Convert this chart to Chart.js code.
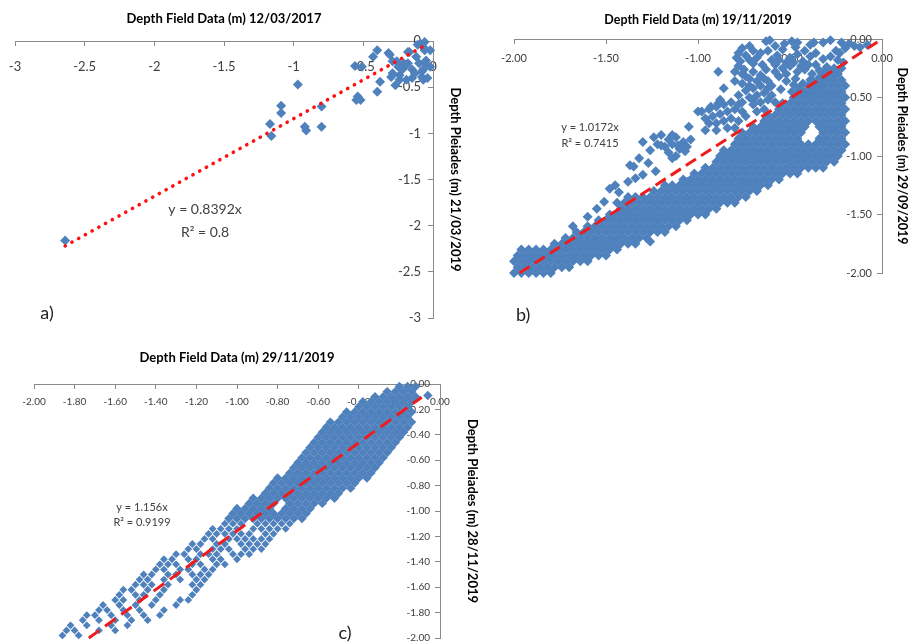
<!DOCTYPE html>
<html>
<head>
<meta charset="utf-8">
<script src="https://cdn.jsdelivr.net/npm/chart.js@4/dist/chart.umd.min.js"></script>
<style>
html,body{margin:0;padding:0;background:#fff;}
body{width:912px;height:644px;position:relative;overflow:hidden;}
.box{position:absolute;}
canvas{display:block;}
</style>
</head>
<body>
<div class="box" style="left:0;top:0;width:470px;height:330px"><canvas id="cA" width="470" height="330"></canvas></div>
<div class="box" style="left:480px;top:0;width:432px;height:330px"><canvas id="cB" width="432" height="330"></canvas></div>
<div class="box" style="left:0;top:340px;width:500px;height:304px"><canvas id="cC" width="500" height="304"></canvas></div>
<script>
// ---------- tick labels ----------
const aTickLabels = ['-3','-2.5','-2','-1.5','-1','-0.5','0'];
const bTickLabels = ['-2.00','-1.50','-1.00','-0.50','0.00'];
const cTickLabels = ['-2.00','-1.80','-1.60','-1.40','-1.20','-1.00','-0.80','-0.60','-0.40','-0.20','0.00'];

// ---------- axis titles ----------
const aTitles = ['Depth Field Data (m) 12/03/2017', 'Depth Pleiades (m) 21/03/2019'];
const bTitles = ['Depth Field Data (m) 19/11/2019', 'Depth Pleiades (m) 29/09/2019'];
const cTitles = ['Depth Field Data (m) 29/11/2019', 'Depth Pleiades (m) 28/11/2019'];

// ---------- trend equations ----------
const aEq = ['y = 0.8392x', 'R\u00B2 = 0.8'];
const bEq = ['y = 1.0172x', 'R\u00B2 = 0.7415'];
const cEq = ['y = 1.156x', 'R\u00B2 = 0.9199'];

// ---------- panel a: [field, pleiades] ----------
const aPoints = [
[-2.64,-2.16],[-1.17,-0.90],[-1.16,-1.03],[-1.09,-0.70],[-1.09,-0.78],
[-0.97,-0.47],[-0.92,-0.93],[-0.91,-0.97],[-0.80,-0.71],[-0.80,-0.93],
[-0.56,-0.27],[-0.55,-0.64],[-0.54,-0.60],[-0.51,-0.28],
[-0.43,-0.17],[-0.40,-0.10],[-0.38,-0.44],[-0.40,-0.55],
[-0.32,-0.13],[-0.31,-0.15],[-0.29,-0.22],[-0.29,-0.35],[-0.30,-0.39],[-0.27,-0.48],
[-0.26,-0.22],[-0.25,-0.28],[-0.24,-0.37],[-0.24,-0.42],[-0.22,-0.31],[-0.21,-0.24],
[-0.19,-0.26],[-0.19,-0.42],[-0.18,-0.12],[-0.17,-0.12],[-0.18,-0.24],[-0.15,-0.31],
[-0.15,-0.40],[-0.13,-0.35],[-0.12,-0.17],[-0.11,-0.04],[-0.10,-0.24],[-0.09,-0.03],
[-0.08,-0.39],[-0.08,-0.33],[-0.07,-0.31],[-0.07,-0.42],[-0.06,-0.10],[-0.06,-0.01],
[-0.06,-0.24],[-0.05,-0.21],[-0.04,-0.40],[-0.02,-0.28],[-0.02,-0.10],[-0.06,-0.08],
[-0.52,-0.64]
];
const aTrend = [[-2.64,-2.22],[-0.06,-0.05]];

// ---------- panel b: rows of field values read at each pleiades depth ----------
const bRowY = [-2.00,-1.95,-1.90,-1.85,-1.80,-1.75,-1.70,-1.65,-1.60,-1.55,-1.50,-1.45,-1.40,-1.35,-1.30,-1.25,-1.20,-1.15,-1.10,-1.05,-1.00,-0.95,-0.90,-0.85,-0.80,-0.75,-0.70,-0.65,-0.60,-0.55,-0.50,-0.45,-0.40,-0.35,-0.30,-0.25];
const bRowX = [
[-2.00,-1.96,-1.92,-1.88,-1.84,-1.80],
[-1.98,-1.94,-1.90,-1.86,-1.82,-1.78,-1.74,-1.70],
[-2.00,-1.96,-1.92,-1.88,-1.84,-1.80,-1.76,-1.72,-1.68,-1.64,-1.60],
[-1.98,-1.94,-1.90,-1.86,-1.82,-1.78,-1.74,-1.70,-1.66,-1.62,-1.58,-1.54,-1.50],
[-1.96,-1.92,-1.88,-1.84,-1.80,-1.76,-1.72,-1.68,-1.64,-1.60,-1.56,-1.52,-1.48,-1.44],
[-1.78,-1.74,-1.70,-1.66,-1.62,-1.58,-1.54,-1.50,-1.46,-1.42,-1.38,-1.34],
[-1.72,-1.68,-1.64,-1.60,-1.56,-1.52,-1.48,-1.44,-1.40,-1.36,-1.32,-1.28],
[-1.66,-1.62,-1.58,-1.54,-1.50,-1.46,-1.42,-1.38,-1.34,-1.30,-1.26,-1.22,-1.18],
[-1.60,-1.56,-1.52,-1.48,-1.44,-1.40,-1.36,-1.32,-1.28,-1.24,-1.20,-1.16,-1.12],
[-1.54,-1.50,-1.46,-1.42,-1.38,-1.34,-1.30,-1.26,-1.22,-1.18,-1.14,-1.10,-1.06],
[-1.48,-1.44,-1.40,-1.36,-1.32,-1.28,-1.24,-1.20,-1.16,-1.12,-1.08,-1.04,-1.00,-0.96],
[-1.42,-1.38,-1.34,-1.30,-1.26,-1.22,-1.18,-1.14,-1.10,-1.06,-1.02,-0.98,-0.94,-0.90],
[-1.44,-1.40,-1.36,-1.32,-1.28,-1.24,-1.20,-1.16,-1.12,-1.08,-1.04,-1.00,-0.96,-0.92,-0.88,-0.84,-0.80],
[-1.38,-1.34,-1.30,-1.26,-1.22,-1.18,-1.14,-1.10,-1.06,-1.02,-0.98,-0.94,-0.90,-0.86,-0.82,-0.78,-0.74],
[-1.24,-1.20,-1.16,-1.12,-1.08,-1.04,-1.00,-0.96,-0.92,-0.88,-0.84,-0.80,-0.76,-0.72,-0.68],
[-1.18,-1.14,-1.10,-1.06,-1.02,-0.98,-0.94,-0.90,-0.86,-0.82,-0.78,-0.74,-0.70,-0.66,-0.62],
[-1.08,-1.04,-1.00,-0.96,-0.92,-0.88,-0.84,-0.80,-0.76,-0.72,-0.68,-0.64,-0.60,-0.56],
[-1.02,-0.98,-0.94,-0.90,-0.86,-0.82,-0.78,-0.74,-0.70,-0.66,-0.62,-0.58,-0.54,-0.50,-0.46],
[-0.96,-0.92,-0.88,-0.84,-0.80,-0.76,-0.72,-0.68,-0.64,-0.60,-0.56,-0.52,-0.48,-0.44,-0.40,-0.36,-0.32],
[-0.90,-0.86,-0.82,-0.78,-0.74,-0.70,-0.66,-0.62,-0.58,-0.54,-0.50,-0.46,-0.42,-0.38,-0.34,-0.30,-0.26],
[-0.88,-0.84,-0.80,-0.76,-0.72,-0.68,-0.64,-0.60,-0.56,-0.52,-0.48,-0.44,-0.40,-0.36,-0.32,-0.28,-0.24],
[-0.86,-0.82,-0.78,-0.74,-0.70,-0.66,-0.62,-0.58,-0.54,-0.50,-0.46,-0.42,-0.38,-0.34,-0.30,-0.26,-0.22],
[-0.80,-0.76,-0.72,-0.68,-0.64,-0.60,-0.56,-0.52,-0.48,-0.44,-0.40,-0.36,-0.32,-0.28,-0.24,-0.20],
[-0.78,-0.74,-0.70,-0.66,-0.62,-0.58,-0.54,-0.50,-0.46,-0.34,-0.30,-0.26,-0.22],
[-0.76,-0.72,-0.68,-0.64,-0.60,-0.56,-0.52,-0.48,-0.44,-0.32,-0.28,-0.24,-0.20],
[-0.70,-0.66,-0.62,-0.58,-0.54,-0.50,-0.46,-0.42,-0.34,-0.30,-0.26,-0.22],
[-0.64,-0.60,-0.56,-0.52,-0.48,-0.44,-0.40,-0.36,-0.32,-0.28,-0.24,-0.20],
[-0.62,-0.58,-0.54,-0.50,-0.46,-0.42,-0.38,-0.34,-0.30,-0.26,-0.22],
[-0.56,-0.52,-0.48,-0.44,-0.40,-0.36,-0.32,-0.28,-0.24,-0.20],
[-0.54,-0.50,-0.46,-0.42,-0.38,-0.34,-0.30,-0.26,-0.22],
[-0.48,-0.44,-0.40,-0.36,-0.32,-0.28,-0.24,-0.20],
[-0.46,-0.42,-0.38,-0.34,-0.30,-0.26,-0.22],
[-0.40,-0.36,-0.32,-0.28,-0.24,-0.20],
[-0.38,-0.34,-0.30,-0.26,-0.22],
[-0.32,-0.28,-0.24],
[-0.30,-0.26,-0.22]
];
const bScatter = [
[-0.63,-0.02],[-0.61,-0.01],[-0.53,-0.04],[-0.49,-0.02],[-0.46,-0.03],[-0.39,-0.05],[-0.37,-0.03],[-0.32,-0.03],
[-0.28,-0.01],[-0.22,-0.03],[-0.18,-0.04],[-0.15,-0.06],[-0.12,-0.07],[-0.08,-0.05],
[-0.79,-0.16],[-0.77,-0.19],[-0.74,-0.14],[-0.72,-0.18],[-0.68,-0.16],[-0.65,-0.22],[-0.75,-0.26],[-0.70,-0.28],
[-0.66,-0.31],[-0.63,-0.26],[-0.74,-0.32],[-0.70,-0.21],[-0.78,-0.23],[-0.80,-0.28],[-0.76,-0.30],[-0.72,-0.34],
[-0.68,-0.36],[-0.64,-0.34],[-0.80,-0.36],[-0.76,-0.38],[-0.72,-0.40],[-0.66,-0.12],[-0.70,-0.10],[-0.78,-0.12],
[-0.60,-0.18],[-0.62,-0.10],[-0.57,-0.14],[-0.54,-0.09],[-0.50,-0.16],[-0.47,-0.07],[-0.46,-0.13],[-0.43,-0.19],
[-0.42,-0.10],[-0.39,-0.15],[-0.36,-0.22],[-0.32,-0.17],[-0.58,-0.22],[-0.54,-0.25],[-0.50,-0.23],[-0.46,-0.28],
[-0.42,-0.26],[-0.38,-0.30],[-0.34,-0.27],[-0.30,-0.24],[-0.28,-0.15],[-0.25,-0.10],[-0.56,-0.32],[-0.52,-0.36],
[-0.47,-0.34],[-0.43,-0.38],[-0.39,-0.35],[-0.35,-0.40],[-0.31,-0.36],[-0.27,-0.31],[-0.60,-0.40],[-0.55,-0.43],
[-0.49,-0.45],[-0.45,-0.42],[-0.41,-0.47],[-0.23,-0.12],[-0.20,-0.08],[-0.24,-0.18],[-0.21,-0.20],
[-0.76,-0.08],[-0.72,-0.06],[-0.58,-0.06],[-0.56,-0.18],[-0.52,-0.20],[-0.48,-0.20],[-0.44,-0.23],[-0.40,-0.22],
[-0.36,-0.12],[-0.34,-0.33],[-0.30,-0.30],[-0.58,-0.28],[-0.62,-0.36],[-0.52,-0.30],[-0.48,-0.39],[-0.44,-0.46],
[-0.38,-0.42],[-0.33,-0.45],
[-0.89,-0.28],[-0.86,-0.42],[-0.89,-0.55],
[-1.24,-0.84],[-1.20,-0.82],[-1.16,-0.86],[-1.12,-0.84],[-1.08,-0.88],[-1.22,-0.90],[-1.18,-0.92],[-1.14,-0.90],
[-1.10,-0.94],[-1.06,-0.92],[-1.16,-0.97],[-1.12,-1.00],[-1.04,-0.86],[-1.26,-0.95],
[-0.98,-0.62],[-0.94,-0.60],[-0.90,-0.58],[-0.86,-0.56],[-0.82,-0.54],[-0.78,-0.56],[-0.96,-0.68],[-0.92,-0.66],
[-0.88,-0.64],[-0.84,-0.62],[-0.80,-0.60],[-0.76,-0.62],[-0.90,-0.72],[-0.86,-0.70],[-0.82,-0.68],[-0.78,-0.70],
[-0.74,-0.66],[-0.84,-0.76],[-0.80,-0.76],
[-0.74,-0.44],[-0.70,-0.42],[-0.66,-0.40],[-0.62,-0.42],[-0.72,-0.50],[-0.68,-0.48],[-0.64,-0.46],[-0.60,-0.48],
[-0.70,-0.56],[-0.66,-0.54],[-0.62,-0.52],[-0.58,-0.54],[-0.68,-0.62],[-0.64,-0.60],[-0.78,-0.48],
[-1.00,-0.62],[-0.93,-0.58],[-0.88,-0.52],[-0.76,-0.54],[-0.70,-0.52],[-0.94,-0.72],[-0.90,-0.78],[-0.96,-0.78],
[-1.05,-0.75],[-1.14,-0.82],[-1.30,-0.88],[-1.20,-0.91],[-1.11,-0.91],[-1.07,-0.96],[-1.14,-1.02],[-1.32,-1.02],
[-1.27,-1.06],[-1.37,-1.08],[-1.30,-1.16],[-1.23,-1.13],[-1.06,-1.22],[-1.38,-1.22],[-1.43,-1.31],[-1.51,-1.39],
[-1.48,-1.28],[-1.26,-1.73],[-1.34,-1.19],[-1.55,-1.45],[-1.60,-1.52],[-1.68,-1.60],[-1.45,-1.25],[-1.35,-1.09]
];
const bTrend = [[-1.97,-2.00],[0.00,0.00]];

// ---------- panel c: rows of field values read at each pleiades depth ----------
const cRowY = [-0.02,-0.06,-0.10,-0.14,-0.18,-0.22,-0.26,-0.30,-0.34,-0.38,-0.42,-0.46,-0.50,-0.54,-0.58,-0.62,-0.66,-0.70,-0.74,-0.78,-0.82,-0.86,-0.90,-0.94,-0.98,-1.02,-1.06,-1.10,-1.14,-1.18,-1.22,-1.26,-1.30,-1.34,-1.38,-1.42,-1.46,-1.50,-1.54,-1.58,-1.62,-1.66,-1.70,-1.74,-1.78,-1.82,-1.86,-1.90,-1.94,-1.98];
const cRowX = [
[-0.20,-0.16,-0.12],
[-0.26,-0.22,-0.18,-0.14],
[-0.32,-0.28,-0.24,-0.20,-0.16,-0.12],
[-0.38,-0.34,-0.30,-0.26,-0.22,-0.18,-0.14],
[-0.40,-0.36,-0.32,-0.28,-0.24,-0.20,-0.16],
[-0.46,-0.42,-0.38,-0.34,-0.30,-0.26,-0.22,-0.18,-0.14],
[-0.48,-0.44,-0.40,-0.36,-0.32,-0.28,-0.24,-0.20,-0.16],
[-0.54,-0.50,-0.46,-0.42,-0.38,-0.34,-0.30,-0.26,-0.22,-0.18,-0.14],
[-0.56,-0.52,-0.48,-0.44,-0.40,-0.36,-0.32,-0.28,-0.24,-0.20,-0.16],
[-0.58,-0.54,-0.50,-0.46,-0.42,-0.38,-0.34,-0.30,-0.26,-0.22,-0.18],
[-0.60,-0.56,-0.52,-0.48,-0.44,-0.40,-0.36,-0.32,-0.28,-0.24,-0.20],
[-0.62,-0.58,-0.54,-0.50,-0.46,-0.42,-0.38,-0.34,-0.30,-0.26,-0.22],
[-0.64,-0.60,-0.56,-0.52,-0.48,-0.44,-0.40,-0.36,-0.32,-0.28,-0.24],
[-0.66,-0.62,-0.58,-0.54,-0.50,-0.46,-0.42,-0.38,-0.34,-0.30,-0.26],
[-0.68,-0.64,-0.60,-0.56,-0.52,-0.48,-0.44,-0.40,-0.36,-0.32,-0.28],
[-0.70,-0.66,-0.62,-0.58,-0.54,-0.50,-0.46,-0.42,-0.38,-0.34,-0.30],
[-0.72,-0.68,-0.64,-0.60,-0.56,-0.52,-0.48,-0.44,-0.40,-0.36,-0.32],
[-0.74,-0.70,-0.66,-0.62,-0.58,-0.54,-0.50,-0.46,-0.42,-0.38,-0.34],
[-0.80,-0.76,-0.72,-0.68,-0.64,-0.60,-0.56,-0.52,-0.48,-0.44,-0.40,-0.36],
[-0.82,-0.78,-0.74,-0.70,-0.66,-0.62,-0.58,-0.54,-0.50,-0.46,-0.42],
[-0.84,-0.80,-0.76,-0.72,-0.68,-0.64,-0.60,-0.56,-0.52,-0.48,-0.44],
[-0.86,-0.82,-0.78,-0.74,-0.70,-0.66,-0.62,-0.58,-0.54,-0.50],
[-0.92,-0.88,-0.84,-0.80,-0.76,-0.72,-0.68,-0.64,-0.60,-0.56,-0.52],
[-0.94,-0.90,-0.86,-0.82,-0.74,-0.70,-0.66,-0.62,-0.58],
[-1.00,-0.96,-0.92,-0.88,-0.84,-0.76,-0.72,-0.68,-0.64],
[-1.02,-0.98,-0.94,-0.90,-0.86,-0.82,-0.78,-0.74,-0.70,-0.66],
[-1.04,-1.00,-0.96,-0.92,-0.88,-0.84,-0.80,-0.76,-0.72,-0.68],
[-1.06,-1.02,-0.98,-0.90,-0.86,-0.82,-0.78,-0.74],
[-1.12,-1.08,-1.04,-1.00,-0.92,-0.88,-0.84,-0.80,-0.76],
[-1.14,-1.10,-1.06,-1.02,-0.98,-0.94,-0.86,-0.82],
[-1.16,-1.12,-1.04,-1.00,-0.96,-0.92,-0.88,-0.84],
[-1.22,-1.18,-1.10,-1.06,-0.98,-0.94,-0.90,-0.86],
[-1.24,-1.20,-1.12,-1.08,-1.04,-0.96,-0.92,-0.88],
[-1.30,-1.26,-1.18,-1.14,-1.10,-1.02,-0.98,-0.94],
[-1.36,-1.32,-1.24,-1.20,-1.12,-1.08,-1.00],
[-1.38,-1.34,-1.30,-1.22,-1.18,-1.10,-1.06],
[-1.40,-1.36,-1.28,-1.24,-1.16,-1.12],
[-1.46,-1.42,-1.34,-1.30,-1.22,-1.18,-1.14],
[-1.48,-1.44,-1.36,-1.28,-1.20,-1.16],
[-1.50,-1.46,-1.42,-1.34,-1.22,-1.18],
[-1.56,-1.52,-1.44,-1.36,-1.20],
[-1.58,-1.50,-1.46,-1.38,-1.22],
[-1.60,-1.56,-1.48,-1.40,-1.28,-1.24],
[-1.66,-1.58,-1.50,-1.42,-1.30],
[-1.68,-1.64,-1.56,-1.48,-1.36],
[-1.74,-1.70,-1.62,-1.54,-1.46,-1.38],
[-1.76,-1.68,-1.60,-1.52,-1.44],
[-1.82,-1.74,-1.62,-1.54],
[-1.84,-1.80,-1.68,-1.60],
[-1.86,-1.78]
];
const cScatter = [[-0.06,-0.09]];
const cTrend = [[-1.73,-2.00],[-0.09,-0.104]];

// ---------- helpers ----------
const FONT = "Lato, 'Liberation Sans', sans-serif";
const BLUE = '#4F81BD';
const AXIS = '#8a8a8a';
const TICK = '#404040';

function pairs(arr){ return arr.map(p => ({x:p[0], y:p[1]})); }
function rows(rowY, rowX){
  const out = [];
  rowY.forEach((y, i) => rowX[i].forEach(x => out.push({x, y})));
  return out;
}

const annot = {
  id: 'annot',
  afterDraw(chart, args, opts){
    const {ctx} = chart;
    const xs = chart.scales.x, ys = chart.scales.y;
    ctx.save();
    (opts.items || []).forEach(t => {
      ctx.font = t.font;
      ctx.fillStyle = t.color;
      ctx.textAlign = 'center';
      ctx.textBaseline = 'middle';
      ctx.fillText(t.text, xs.getPixelForValue(t.x), ys.getPixelForValue(t.y));
    });
    ctx.restore();
  }
};

function fixBox(s, w, h){
  if (w !== null) s.width = w;
  if (h !== null) s.height = h;
  s.paddingLeft = 0; s.paddingRight = 0; s.paddingTop = 0; s.paddingBottom = 0;
}

function makePanel(id, c){
  const tickFont = {family: FONT, size: c.tickSize};
  const titleFont = {family: FONT, size: c.titleSize, weight: 'bold'};
  const gridOpts = {display: true, drawOnChartArea: false, drawTicks: true, tickLength: -5, color: AXIS, lineWidth: 1};
  const datasets = [
    { data: pairs(c.trend), showLine: true, pointRadius: 0, pointHoverRadius: 0,
      borderColor: c.trendColor, borderWidth: c.trendWidth, borderDash: c.dash,
      borderCapStyle: c.cap, fill: false, clip: false }
  ];
  c.sets.forEach(s => datasets.push({
    data: s.points, pointStyle: 'rectRot', pointRadius: s.r, pointHoverRadius: s.r,
    backgroundColor: BLUE, borderColor: BLUE, borderWidth: 0, clip: false
  }));
  new Chart(document.getElementById(id), {
    type: 'scatter',
    data: { datasets },
    options: {
      responsive: false, animation: false, devicePixelRatio: 1, events: [],
      layout: {padding: c.pad},
      plugins: {legend: {display: false}, tooltip: {enabled: false}, title: {display: false},
                annot: {items: c.texts}},
      scales: {
        x: { type: 'linear', position: 'top', min: c.min, max: 0, z: 1,
             ticks: {stepSize: c.step, font: tickFont, color: TICK, mirror: true, padding: c.xPad,
                     maxRotation: 0, autoSkip: false, callback: (v, i) => c.labels[i]},
             grid: gridOpts,
             border: {display: true, color: AXIS, width: 1},
             title: {display: true, text: c.titles[0], font: titleFont, color: '#000',
                     padding: {top: c.xTitlePad, bottom: 0}},
             afterFit: s => fixBox(s, null, c.xH) },
        y: { type: 'linear', position: 'right', min: c.min, max: 0, z: 1,
             ticks: {stepSize: c.step, font: tickFont, color: TICK, mirror: true, padding: c.yPad,
                     autoSkip: false, callback: (v, i) => c.labels[i]},
             grid: gridOpts,
             border: {display: true, color: AXIS, width: 1},
             title: {display: true, text: c.titles[1], font: titleFont, color: '#000',
                     padding: {top: c.yTitlePad, bottom: 0}},
             afterFit: s => fixBox(s, c.yW, null) }
      }
    },
    plugins: [annot]
  });
}

makePanel('cA', {
  min: -3, step: 0.5, labels: aTickLabels, titles: aTitles,
  sets: [{points: pairs(aPoints), r: 5}],
  trend: aTrend, trendColor: '#ff1010', trendWidth: 3.6,
  dash: [0.1, 7.6], cap: 'round',
  tickSize: 13, titleSize: 13, xPad: 18, yPad: -12, xTitlePad: 11, yTitlePad: 7,
  pad: {left: 15, top: 0, right: 0, bottom: 12}, xH: 41, yW: 37,
  texts: [
    {text: aEq[0], x: -1.636, y: -1.83, font: "14px " + FONT, color: '#404040'},
    {text: aEq[1], x: -1.636, y: -2.07, font: "14px " + FONT, color: '#404040'},
    {text: 'a)', x: -2.77, y: -2.95, font: "18px " + FONT, color: '#222'}
  ]
});

makePanel('cB', {
  min: -2, step: 0.5, labels: bTickLabels, titles: bTitles,
  sets: [{points: rows(bRowY, bRowX).concat(pairs(bScatter)), r: 5}],
  trend: bTrend, trendColor: '#ee1c1c', trendWidth: 3,
  dash: [12, 6], cap: 'butt',
  tickSize: 11, titleSize: 12.5, xPad: 13, yPad: -10, xTitlePad: 12, yTitlePad: 2,
  pad: {left: 34, top: 0, right: 0, bottom: 57}, xH: 39, yW: 30,
  texts: [
    {text: bEq[0], x: -1.587, y: -0.752, font: "11px " + FONT, color: '#404040'},
    {text: bEq[1], x: -1.587, y: -0.889, font: "11px " + FONT, color: '#404040'},
    {text: 'b)', x: -1.95, y: -2.36, font: "18px " + FONT, color: '#222'}
  ]
});

const cAll = rows(cRowY, cRowX).concat(pairs(cScatter));
makePanel('cC', {
  min: -2, step: 0.2, labels: cTickLabels, titles: cTitles,
  sets: [{points: cAll.filter(p => p.y >= -1.07), r: 4.7},
         {points: cAll.filter(p => p.y < -1.07), r: 3.9}],
  trend: cTrend, trendColor: '#ee1c1c', trendWidth: 3,
  dash: [13, 7], cap: 'butt',
  tickSize: 10, titleSize: 13, xPad: 12, yPad: -10, xTitlePad: 10, yTitlePad: 20,
  pad: {left: 34, top: 0, right: 0, bottom: 6}, xH: 44, yW: 60,
  texts: [
    {text: cEq[0], x: -1.468, y: -0.969, font: "11px " + FONT, color: '#404040'},
    {text: cEq[1], x: -1.468, y: -1.087, font: "11px " + FONT, color: '#404040'},
    {text: 'c)', x: -0.468, y: -1.96, font: "18px " + FONT, color: '#222'}
  ]
});
</script>
</body>
</html>
